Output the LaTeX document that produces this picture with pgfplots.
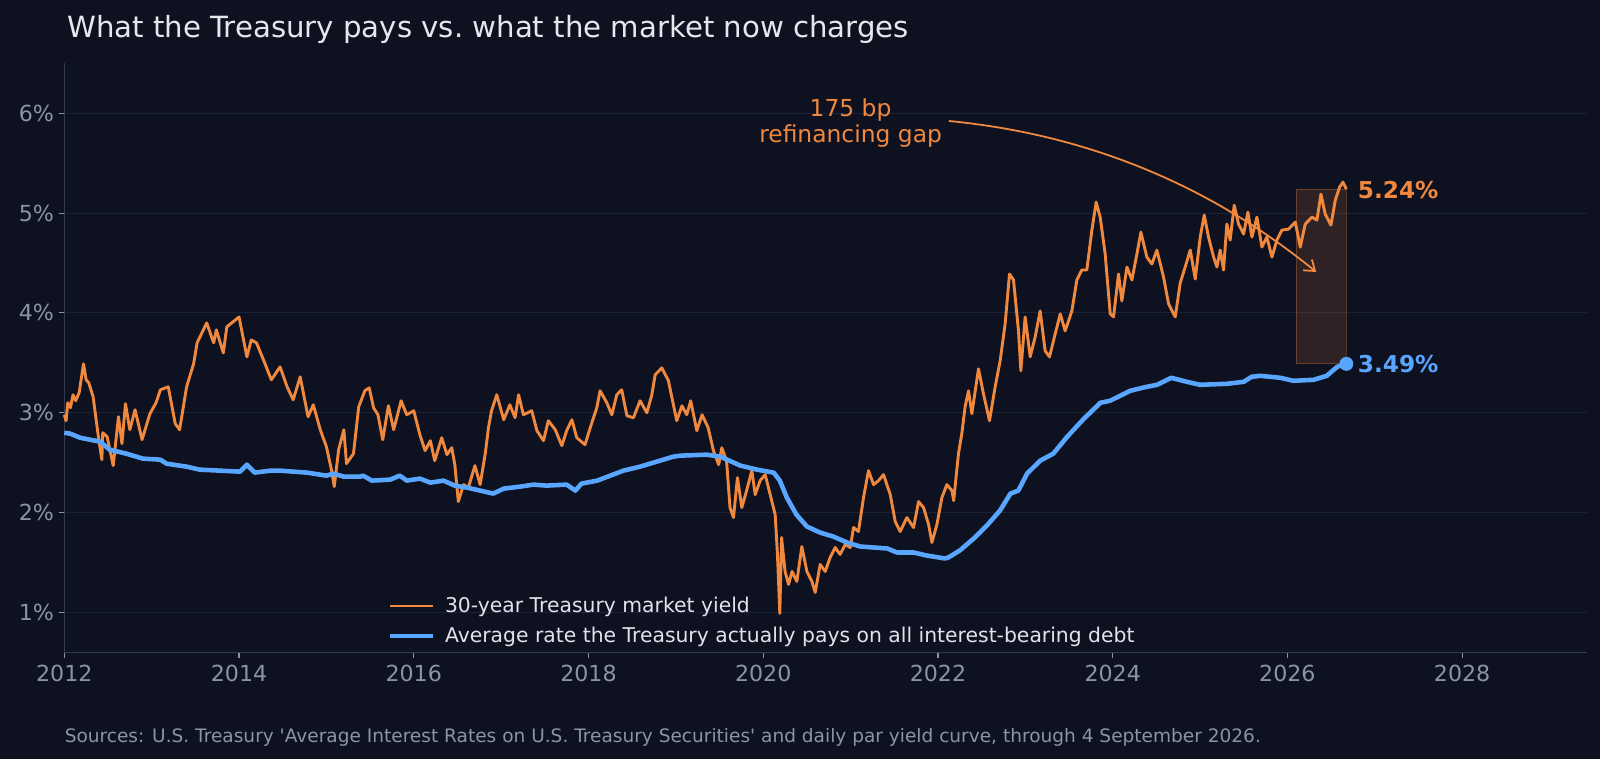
\documentclass[border=0pt]{standalone}
\usepackage{pgfplots}
\pgfplotsset{compat=1.18}
\usepackage{fontspec}
\setmainfont{DejaVu Sans}
\usetikzlibrary{arrows.meta}
\definecolor{bgc}{HTML}{0E1120}
\definecolor{gridc}{HTML}{1C2236}
\definecolor{spinec}{HTML}{343A50}
\definecolor{tlc}{HTML}{8B93A7}
\definecolor{titlec}{HTML}{E6E8EE}
\definecolor{legc}{HTML}{E0E3EA}
\definecolor{orangec}{HTML}{F0883E}
\definecolor{bluec}{HTML}{58A6FF}
\begin{document}
\begin{tikzpicture}
\fill[bgc] (0pt,0pt) rectangle (1156.32pt,548.53pt);
\begin{axis}[
  at={(46.47pt,77.11pt)}, anchor=south west,
  scale only axis, width=1100.5pt, height=425.6pt,
  xmin=2012, xmax=2029.43, ymin=0.6, ymax=6.5,
  axis x line*=bottom, axis y line*=left,
  axis line style={spinec, line width=0.9pt},
  xtick={2012,2014,...,2028}, ytick={1,2,3,4,5,6},
  /pgf/number format/1000 sep={},
  /pgf/number format/assume math mode=true,
  yticklabel={\pgfmathprintnumber{\tick}\%},
  tick align=outside, major tick length=4pt,
  tick style={tlc, line width=0.8pt},
  ymajorgrids, grid style={gridc, line width=0.8pt},
  tick label style={font=\fontsize{16}{19}\selectfont, text=tlc},
  xticklabel style={yshift=-2pt},
  legend style={at={(0.2096,0.0531)}, anchor=west, draw=none, fill=none,
    font=\fontsize{14.7}{17}\selectfont, text=legc, row sep=5pt, column sep=5pt,
    nodes={inner sep=2pt}},
  legend cell align=left,
  legend image code/.code={\draw[#1] (0pt,0pt) -- (31pt,0pt);},
  clip=false,
]
\fill[orangec, fill opacity=0.15] (axis cs:2026.10,3.49) rectangle (axis cs:2026.675,5.24);
\draw[orangec, draw opacity=0.3, line width=0.7pt] (axis cs:2026.10,3.49) rectangle (axis cs:2026.675,5.24);
\addplot[orangec, line width=2.1pt, line join=round] coordinates {
(2012.00,2.98) (2012.02,2.92) (2012.04,3.10) (2012.07,3.05) (2012.10,3.18) (2012.13,3.12) (2012.17,3.20) (2012.22,3.49) (2012.25,3.33) (2012.28,3.30) (2012.33,3.16) (2012.39,2.76) (2012.43,2.53) (2012.44,2.80) (2012.49,2.76) (2012.56,2.47) (2012.62,2.96) (2012.66,2.69) (2012.70,3.09) (2012.75,2.83) (2012.81,3.03) (2012.89,2.73) (2012.98,2.99) (2013.05,3.10) (2013.10,3.23) (2013.19,3.26) (2013.27,2.89) (2013.32,2.83) (2013.40,3.26) (2013.48,3.49) (2013.52,3.70) (2013.63,3.90) (2013.71,3.70) (2013.74,3.83) (2013.82,3.60) (2013.86,3.86) (2013.93,3.91) (2014.00,3.96) (2014.09,3.56) (2014.14,3.73) (2014.20,3.70) (2014.28,3.53) (2014.37,3.33) (2014.47,3.46) (2014.55,3.26) (2014.62,3.13) (2014.70,3.36) (2014.79,2.96) (2014.85,3.08) (2014.93,2.83) (2015.00,2.66) (2015.06,2.42) (2015.09,2.26) (2015.14,2.63) (2015.20,2.83) (2015.23,2.49) (2015.31,2.59) (2015.37,3.06)
(2015.44,3.22) (2015.49,3.25) (2015.54,3.05) (2015.59,2.98) (2015.645,2.73) (2015.71,3.07) (2015.77,2.83) (2015.855,3.12) (2015.92,2.98) (2016.00,3.02) (2016.07,2.78) (2016.13,2.62) (2016.19,2.72) (2016.24,2.52) (2016.32,2.75) (2016.38,2.58) (2016.435,2.65) (2016.47,2.48) (2016.51,2.11) (2016.57,2.28) (2016.625,2.25) (2016.70,2.47) (2016.76,2.28) (2016.82,2.60) (2016.855,2.85) (2016.89,3.02) (2016.95,3.18) (2017.03,2.93) (2017.10,3.08) (2017.16,2.95) (2017.20,3.18) (2017.255,2.98) (2017.35,3.02) (2017.41,2.82) (2017.485,2.72) (2017.54,2.92) (2017.62,2.83) (2017.695,2.67) (2017.75,2.82) (2017.81,2.93) (2017.866,2.75) (2017.96,2.68) (2018.02,2.85) (2018.095,3.05) (2018.133,3.22) (2018.21,3.10) (2018.267,2.98) (2018.324,3.18) (2018.38,3.23) (2018.44,2.97) (2018.515,2.95) (2018.59,3.12) (2018.668,3.00) (2018.725,3.18) (2018.763,3.38) (2018.84,3.45) (2018.915,3.32) (2018.972,3.08) (2019.01,2.92)
(2019.07,3.07) (2019.125,2.98) (2019.17,3.12) (2019.24,2.82) (2019.30,2.98) (2019.37,2.85) (2019.43,2.62) (2019.49,2.48) (2019.526,2.65) (2019.58,2.52) (2019.62,2.05) (2019.66,1.95) (2019.705,2.35) (2019.755,2.05) (2019.81,2.22) (2019.87,2.42) (2019.908,2.18) (2019.965,2.32) (2020.022,2.38) (2020.08,2.18) (2020.137,1.98) (2020.163,1.58) (2020.19,0.99) (2020.21,1.75) (2020.25,1.41) (2020.29,1.28) (2020.33,1.41) (2020.385,1.31) (2020.442,1.66) (2020.50,1.41) (2020.557,1.31) (2020.595,1.20) (2020.652,1.48) (2020.71,1.41) (2020.766,1.55) (2020.824,1.65) (2020.88,1.58) (2020.938,1.68) (2020.996,1.65) (2021.034,1.85) (2021.09,1.81) (2021.148,2.15) (2021.205,2.42) (2021.263,2.28) (2021.32,2.32) (2021.377,2.38) (2021.454,2.18) (2021.511,1.91) (2021.568,1.81) (2021.644,1.95) (2021.721,1.85) (2021.778,2.11) (2021.835,2.05) (2021.893,1.88) (2021.931,1.70) (2021.988,1.88) (2022.045,2.15) (2022.102,2.28) (2022.16,2.22) (2022.18,2.12)
(2022.235,2.59) (2022.273,2.79) (2022.311,3.06) (2022.35,3.22) (2022.388,2.99) (2022.464,3.44) (2022.521,3.19) (2022.59,2.92) (2022.655,3.26) (2022.712,3.52) (2022.769,3.89) (2022.819,4.39) (2022.865,4.33) (2022.922,3.82) (2022.949,3.42) (2022.998,3.96) (2023.056,3.56) (2023.113,3.76) (2023.17,4.02) (2023.227,3.62) (2023.277,3.56) (2023.342,3.79) (2023.40,3.99) (2023.456,3.82) (2023.533,4.02) (2023.59,4.33) (2023.647,4.43) (2023.704,4.43) (2023.762,4.83) (2023.811,5.11) (2023.857,4.96) (2023.914,4.59) (2023.972,3.99) (2024.01,3.96) (2024.067,4.39) (2024.105,4.12) (2024.163,4.46) (2024.22,4.33) (2024.277,4.59) (2024.323,4.81) (2024.391,4.56) (2024.449,4.49) (2024.506,4.63) (2024.582,4.36) (2024.64,4.09) (2024.716,3.96) (2024.773,4.30)
(2024.83,4.46) (2024.888,4.63) (2024.945,4.34) (2025.002,4.76) (2025.048,4.98) (2025.097,4.76) (2025.155,4.56) (2025.193,4.46) (2025.231,4.63) (2025.269,4.43) (2025.307,4.89) (2025.345,4.73) (2025.391,5.08) (2025.441,4.89) (2025.498,4.79) (2025.548,5.01) (2025.594,4.76) (2025.651,4.96) (2025.708,4.66) (2025.765,4.76) (2025.823,4.56) (2025.880,4.73) (2025.937,4.83) (2026.013,4.84) (2026.09,4.91) (2026.147,4.66) (2026.204,4.89) (2026.281,4.96) (2026.338,4.93) (2026.384,5.19) (2026.433,4.99) (2026.498,4.88) (2026.548,5.13) (2026.597,5.26) (2026.635,5.31) (2026.675,5.24)
};
\addlegendentry{30-year Treasury market yield}
\addplot[bluec, line width=3.3pt, line join=round] coordinates {
(2012.00,2.80) (2012.07,2.79) (2012.18,2.75) (2012.41,2.71) (2012.52,2.63) (2012.71,2.59) (2012.90,2.54) (2013.10,2.53) (2013.17,2.49) (2013.40,2.46) (2013.55,2.43) (2013.78,2.42) (2014.01,2.41) (2014.09,2.48) (2014.18,2.40) (2014.36,2.42) (2014.47,2.42) (2014.62,2.41) (2014.78,2.40) (2015.00,2.37) (2015.08,2.39) (2015.20,2.36) (2015.39,2.36) (2015.42,2.37) (2015.52,2.32) (2015.73,2.33) (2015.84,2.37) (2015.92,2.32) (2016.07,2.34) (2016.19,2.30) (2016.34,2.32) (2016.47,2.27) (2016.61,2.25) (2016.76,2.22) (2016.91,2.19) (2017.03,2.24) (2017.22,2.26) (2017.37,2.28) (2017.52,2.27) (2017.75,2.28) (2017.85,2.22) (2017.92,2.29) (2018.10,2.32) (2018.25,2.37) (2018.40,2.42) (2018.59,2.46) (2018.78,2.51) (2018.97,2.56) (2019.05,2.57) (2019.35,2.58) (2019.51,2.56) (2019.74,2.47) (2019.93,2.43) (2020.12,2.40) (2020.19,2.32) (2020.27,2.15) (2020.38,1.98) (2020.50,1.86) (2020.65,1.80) (2020.80,1.76) (2020.96,1.70) (2021.11,1.66) (2021.42,1.64) (2021.53,1.60) (2021.72,1.60) (2021.87,1.57) (2022.08,1.54) (2022.12,1.55) (2022.25,1.62) (2022.41,1.74) (2022.56,1.87) (2022.71,2.02) (2022.83,2.19) (2022.92,2.22) (2023.02,2.39) (2023.17,2.52) (2023.32,2.59) (2023.48,2.76) (2023.67,2.94) (2023.86,3.10) (2023.97,3.12) (2024.20,3.22) (2024.39,3.26) (2024.51,3.28) (2024.67,3.35) (2024.85,3.31) (2025.00,3.28) (2025.31,3.29) (2025.50,3.31) (2025.59,3.36) (2025.69,3.37) (2025.92,3.35) (2026.07,3.32) (2026.30,3.33) (2026.45,3.37) (2026.57,3.46) (2026.675,3.49)
};
\addlegendentry{Average rate the Treasury actually pays on all interest-bearing debt}
\addplot[only marks, mark=*, mark size=4.8pt, bluec, forget plot] coordinates {(2026.675,3.49)};
\node[anchor=west, text=orangec, font=\bfseries\fontsize{16.8}{19}\selectfont] at (axis cs:2026.75,5.23) {5.24\%};
\node[anchor=west, text=bluec, font=\bfseries\fontsize{16.8}{19}\selectfont] at (axis cs:2026.75,3.49) {3.49\%};
\node[align=center, text=orangec, font=\fontsize{16.9}{19}\selectfont] at (axis cs:2021.0,5.905) {175 bp\\refinancing gap};
\draw[orangec, line width=1.3pt, -{Straight Barb[length=7pt,width=10pt]}] (axis cs:2022.125,5.923) .. controls (axis cs:2023.702,5.790) and (axis cs:2025.104,5.285) .. (axis cs:2026.33,4.41);
\end{axis}
\node[anchor=base west, font=\fontsize{21.1}{25}\selectfont, text=titlec] at (45pt,521.6pt) {What the Treasury pays vs.\ what the market now charges};
\node[anchor=base west, inner sep=0pt, font=\fontsize{13.4}{16}\selectfont, text=tlc] at (46.6pt,11.78pt) {Sources: U.S. Treasury \textquotesingle Average Interest Rates on U.S. Treasury Securities\textquotesingle\ and daily par yield curve, through 4 September 2026.};
\pgfresetboundingbox
\useasboundingbox (0pt,0pt) rectangle (1156.32pt,548.53pt);
\end{tikzpicture}
\end{document}
